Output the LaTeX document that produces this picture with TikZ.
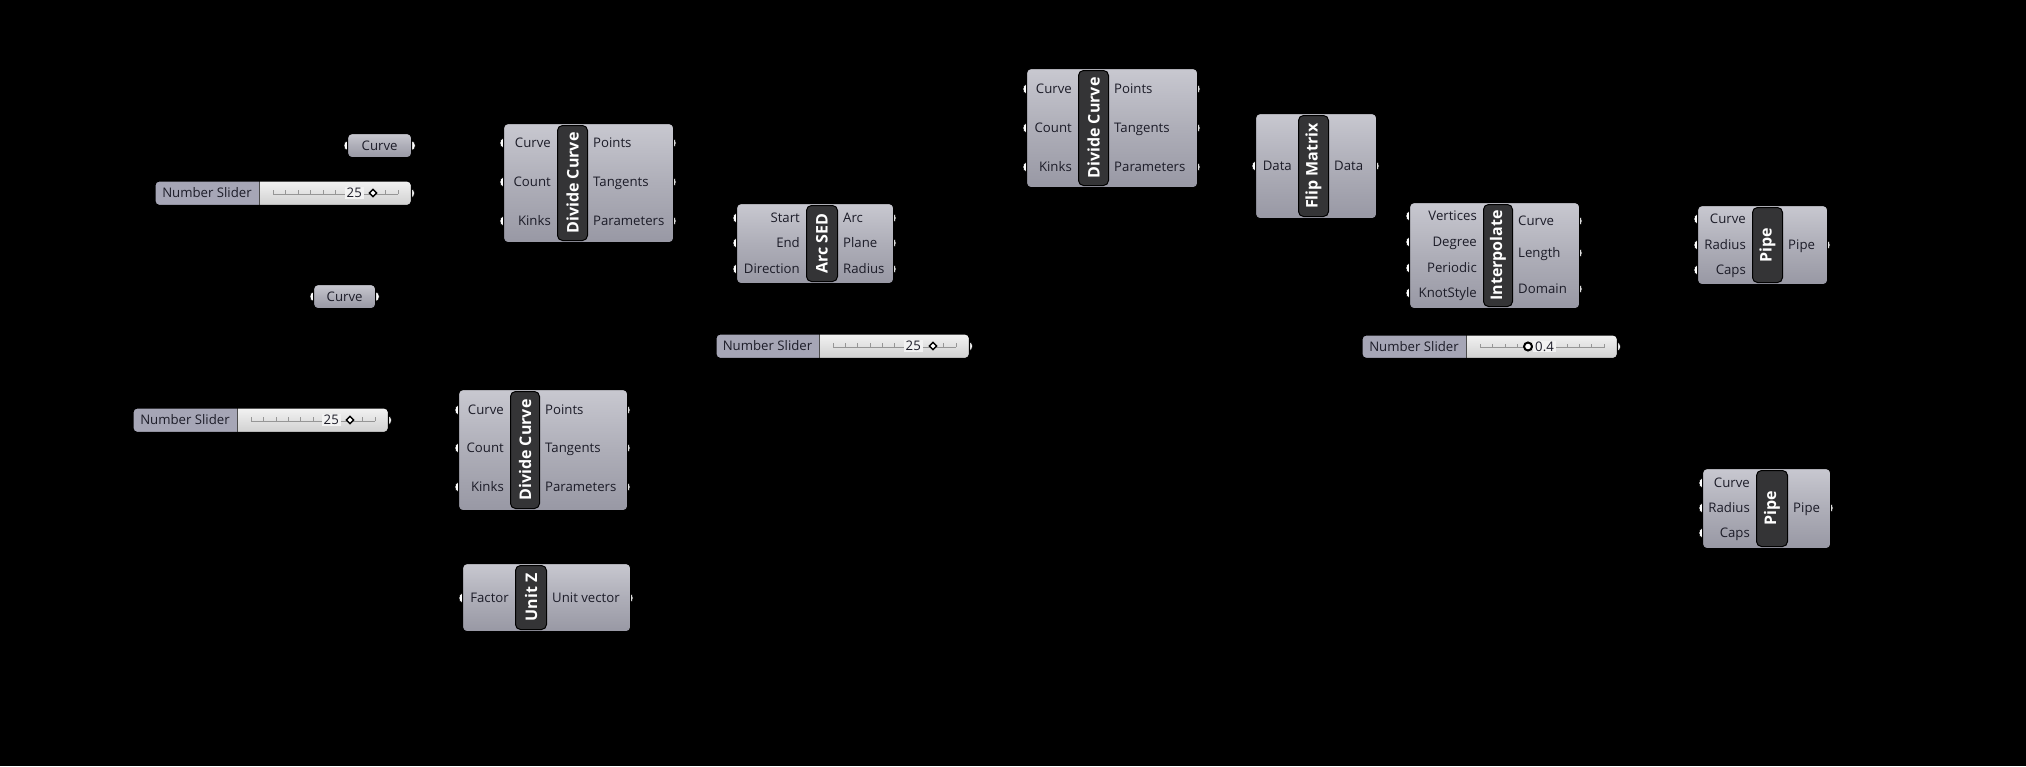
\documentclass[tikz,border=0pt]{standalone}
\usepackage{fontspec}
\setmainfont{Open Sans}
\usetikzlibrary{shapes.geometric}
\definecolor{ghtop}{RGB}{200,200,208}
\definecolor{ghmid}{RGB}{174,174,184}
\definecolor{ghbot}{RGB}{152,152,164}
\definecolor{ghtext}{RGB}{28,28,40}
\definecolor{pillc}{RGB}{52,52,54}
\definecolor{slidl}{RGB}{166,166,182}
\definecolor{slidrt}{RGB}{242,242,242}
\definecolor{slidrb}{RGB}{208,208,208}
\definecolor{tickc}{RGB}{150,150,150}
\pgfdeclarelayer{bg}\pgfdeclarelayer{grips}
\pgfsetlayers{bg,grips,main}
\tikzset{
 comp/.style={draw=black, line width=1.2pt, rounded corners=4pt, top color=ghtop, bottom color=ghbot, middle color=ghmid, inner sep=0, anchor=north west},
 pill/.style={draw=black, line width=1pt, fill=pillc, rounded corners=5pt, inner sep=0, anchor=north west},
 pilltxt/.style={text=white, font=\fontsize{16}{16}\selectfont\bfseries, rotate=90, inner sep=0},
 lab/.style={text=ghtext, font=\fontsize{13.2}{14}\selectfont, inner sep=0, text height=10.4pt, text depth=1pt},
 grip/.style={ellipse, fill=white, draw=black, line width=0.5pt, minimum width=6pt, minimum height=9pt, inner sep=0},
 sbody/.style={top color=slidrt, bottom color=slidrb, rounded corners=4pt, inner sep=0, anchor=north west},
 dmark/.style={diamond, draw=black, fill=white, line width=1.4pt, minimum width=8pt, minimum height=8pt, inner sep=0},
 cmark/.style={circle, draw=black, fill=white, line width=2pt, minimum size=8pt, inner sep=0},
}
\newcommand\ghcomp[8]{%
 \def\cxa{#2}\def\cxb{#4}\def\cpa{#6}\def\cpb{#7}\def\cname{#1}%
 \node[comp, minimum width={(#4-#2)*1pt}, minimum height={(#5-#3)*1pt}] (#1) at (#2,#3) {};
 \node[pill, minimum width={(#7-#6)*1pt}, minimum height={(#5-#3-4)*1pt}] (#1p) at (#6,#3+2) {};
 \node[pilltxt] (#1t) at (#1p.center) {#8};
}
\newcommand\ghin[3]{%
 \node[lab, anchor=east] (\cname-#1) at ({\cpa-6},#2) {#3};
 \begin{pgfonlayer}{grips}\node[grip] (\cname-#1g) at (\cxa,#2) {};\end{pgfonlayer}
}
\newcommand\ghout[3]{%
 \node[lab, anchor=west] (\cname-#1) at ({\cpb+6},#2) {#3};
 \begin{pgfonlayer}{grips}\node[grip] (\cname-#1g) at (\cxb,#2) {};\end{pgfonlayer}
}
\newcommand\ghparam[6]{%
 \node[comp, minimum width={(#4-#2)*1pt}, minimum height={(#5-#3)*1pt}] (#1) at (#2,#3) {};
 \node[lab] (#1t) at (#1.center) {#6};
 \begin{pgfonlayer}{grips}
 \node[grip] (#1gi) at (#1.west) {};
 \node[grip] (#1go) at (#1.east) {};
 \end{pgfonlayer}
}
\newcommand\ghslider[6]{% name x1 y1 x2 y2 xdiv
 \node[sbody, minimum width={(#4-#2)*1pt}, minimum height={(#5-#3)*1pt}] (#1) at (#2,#3) {};
 \begin{scope}
  \clip[rounded corners=4pt] (#2,#3) rectangle (#4,#5);
  \fill[slidl] (#2,#3) rectangle (#6,#5);
 \end{scope}
 \draw[black!70, line width=1pt] (#6,#3) -- (#6,#5);
 \draw[tickc, line width=0.6pt] ({#6+14},{(#3+#5)/2+1}) -- ({#4-13},{(#3+#5)/2+1});
 \pgfmathsetmacro\tstep{(#4-13-#6-14)/10}
 \foreach \k in {0,...,10}{
   \draw[tickc, line width=0.6pt] ({#6+14+\k*\tstep},{(#3+#5)/2+1}) -- ({#6+14+\k*\tstep},{(#3+#5)/2-3});
 }
 \draw[black, line width=1.2pt, rounded corners=4pt] (#1.north west) rectangle (#1.south east);
 \node[lab] (#1l) at ({(#2+#6)/2},{(#3+#5)/2}) {Number Slider};
 \begin{pgfonlayer}{grips}\node[grip] (#1g) at (#1.east) {};\end{pgfonlayer}
}
\begin{document}
\begin{tikzpicture}[x=1pt,y=-1pt]
\useasboundingbox (0,0) rectangle (2026,766);
\begin{pgfonlayer}{bg}\fill[black] (0,0) rectangle (2026,766);\end{pgfonlayer}

% Curve parameters
\ghparam{crvA}{347}{133}{411}{157}{Curve}
\ghparam{crvB}{313}{284}{375}{308}{Curve}

% Sliders
\ghslider{sldA}{155}{181}{411}{205}{259}
\node[lab, anchor=east, fill=slidrt, inner xsep=2pt] (sldAv) at (364,193) {25};
\node[dmark] (sldAm) at (373,193) {};

\ghslider{sldB}{133}{408}{388}{432}{237}
\node[lab, anchor=east, fill=slidrt, inner xsep=2pt] (sldBv) at (341,420) {25};
\node[dmark] (sldBm) at (350,420) {};

\ghslider{sldC}{716}{334}{969}{358}{819}
\node[lab, anchor=east, fill=slidrt, inner xsep=2pt] (sldCv) at (923,346) {25};
\node[dmark] (sldCm) at (933,346) {};

\ghslider{sldD}{1362}{335}{1617}{358}{1466}
\node[cmark] (sldDm) at (1528,346.5) {};
\node[lab, anchor=west, fill=slidrt, inner xsep=2pt] (sldDv) at (1533,346.5) {0.4};

% Divide Curve A
\ghcomp{dcA}{503}{123}{673}{242}{557}{587}{Divide Curve}
\ghin{i1}{143}{Curve}\ghin{i2}{182}{Count}\ghin{i3}{221}{Kinks}
\ghout{o1}{143}{Points}\ghout{o2}{182}{Tangents}\ghout{o3}{221}{Parameters}

% Divide Curve B
\ghcomp{dcB}{458}{389}{627}{510}{510}{539}{Divide Curve}
\ghin{i1}{410}{Curve}\ghin{i2}{448}{Count}\ghin{i3}{487}{Kinks}
\ghout{o1}{410}{Points}\ghout{o2}{448}{Tangents}\ghout{o3}{487}{Parameters}

% Unit Z
\ghcomp{uz}{462}{563}{630}{631}{515}{546}{Unit Z}
\ghin{i1}{598}{Factor}
\ghout{o1}{598}{Unit vector}

% Arc SED
\ghcomp{arc}{736}{203}{893}{283}{806}{837}{Arc SED}
\ghin{i1}{218}{Start}\ghin{i2}{243}{End}\ghin{i3}{269}{Direction}
\ghout{o1}{218}{Arc}\ghout{o2}{243}{Plane}\ghout{o3}{269}{Radius}

% Divide Curve C
\ghcomp{dcC}{1026}{68}{1197}{187}{1078}{1108}{Divide Curve}
\ghin{i1}{89}{Curve}\ghin{i2}{128}{Count}\ghin{i3}{167}{Kinks}
\ghout{o1}{89}{Points}\ghout{o2}{128}{Tangents}\ghout{o3}{167}{Parameters}

% Flip Matrix
\ghcomp{flip}{1255}{113}{1376}{218}{1298}{1328}{Flip Matrix}
\ghin{i1}{166}{Data}
\ghout{o1}{166}{Data}

% Interpolate
\ghcomp{ip}{1409}{202}{1579}{308}{1483}{1512}{Interpolate}
\ghin{i1}{216}{Vertices}\ghin{i2}{242}{Degree}\ghin{i3}{268}{Periodic}\ghin{i4}{293}{KnotStyle}
\ghout{o1}{221}{Curve}\ghout{o2}{253}{Length}\ghout{o3}{289}{Domain}

% Pipe A
\ghcomp{pipeA}{1697}{205}{1827}{284}{1752}{1782}{Pipe}
\ghin{i1}{219}{Curve}\ghin{i2}{245}{Radius}\ghin{i3}{270}{Caps}
\ghout{o1}{245}{Pipe}

% Pipe B
\ghcomp{pipeB}{1702}{468}{1830}{548}{1756}{1787}{Pipe}
\ghin{i1}{483}{Curve}\ghin{i2}{508}{Radius}\ghin{i3}{533}{Caps}
\ghout{o1}{508}{Pipe}
\end{tikzpicture}
\end{document}
